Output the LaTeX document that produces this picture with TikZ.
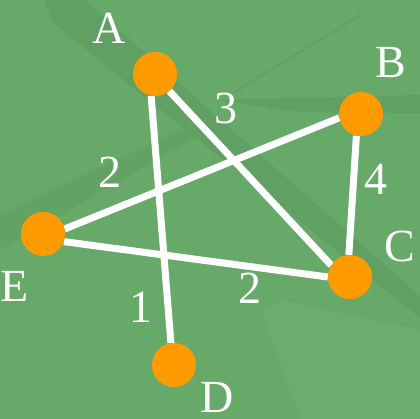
\documentclass[tikz,border=0pt]{standalone}
\usepackage{fontspec}
\setmainfont{Liberation Serif}
\usetikzlibrary{positioning}
\definecolor{fondvert}{HTML}{67A968}
\definecolor{ombre}{HTML}{60A062}
\definecolor{clair}{HTML}{6BAD6C}
\definecolor{orange}{HTML}{FF9A00}
\pgfdeclarelayer{arriere}
\pgfsetlayers{arriere,main}
\tikzset{
  sommet/.style={
    circle,
    fill=orange,
    minimum size=44pt,
    inner sep=0pt
  },
  nom/.style={
    text=white,
    inner sep=0pt,
    font=\fontsize{46}{46}\selectfont
  },
  arete/.style={
    draw=white,
    line width=7pt
  }
}

\begin{document}
\begin{tikzpicture}[x=1pt, y=-1pt]
  % Sommets
  \node[sommet] (A) at (155,74) {};
  \node[sommet] (B) at (361,114) {};
  \node[sommet] (C) at (350,277) {};
  \node[sommet] (D) at (174,365) {};
  \node[sommet] (E) at (43,234) {};

  % Noms des sommets
  \node[nom] (nA) at (109,28) {A};
  \node[nom] (nB) at (391,63) {B};
  \node[nom] (nC) at (400,246) {C};
  \node[nom] (nD) at (217,397) {D};
  \node[nom] (nE) at (15,286) {E};

  \begin{pgfonlayer}{arriere}
  % Fond
  \fill[fondvert] (0,0) rectangle (420,419);
  \fill[clair] (262,312) -- (280,300) -- (420,330) -- (420,419) -- (300,419) -- cycle;
  \fill[ombre] (45,0) -- (85,0) -- (420,296) -- (420,318) -- (52,22) -- cycle;
  \fill[ombre] (215,100) -- (420,95) -- (420,113) -- (300,112) -- cycle;
  \fill[ombre, opacity=0.6] (0,215) -- (190,125) -- (200,135) -- (0,250) -- cycle;
  \draw[ombre, line width=1.5pt] (233,93) -- (360,15);

  % Aretes
  \draw[arete] (A.-100) -- (D.98);
  \draw[arete] (A.-50) -- (C.148);
  \draw[arete] (B.190) -- (E.13);
  \draw[arete] (E.-20) -- (C.180);
  \draw[arete] (B.-102) -- (C.93);
  \end{pgfonlayer}

  % Poids
  \node[nom] (pAD) at (141,307) {1};
  \node[nom] (pAC) at (226,108) {3};
  \node[nom] (pBE) at (110,172) {2};
  \node[nom] (pEC) at (250,288) {2};
  \node[nom] (pBC) at (376,179) {4};

  \useasboundingbox (0,0) rectangle (420,419);
\end{tikzpicture}
\end{document}
